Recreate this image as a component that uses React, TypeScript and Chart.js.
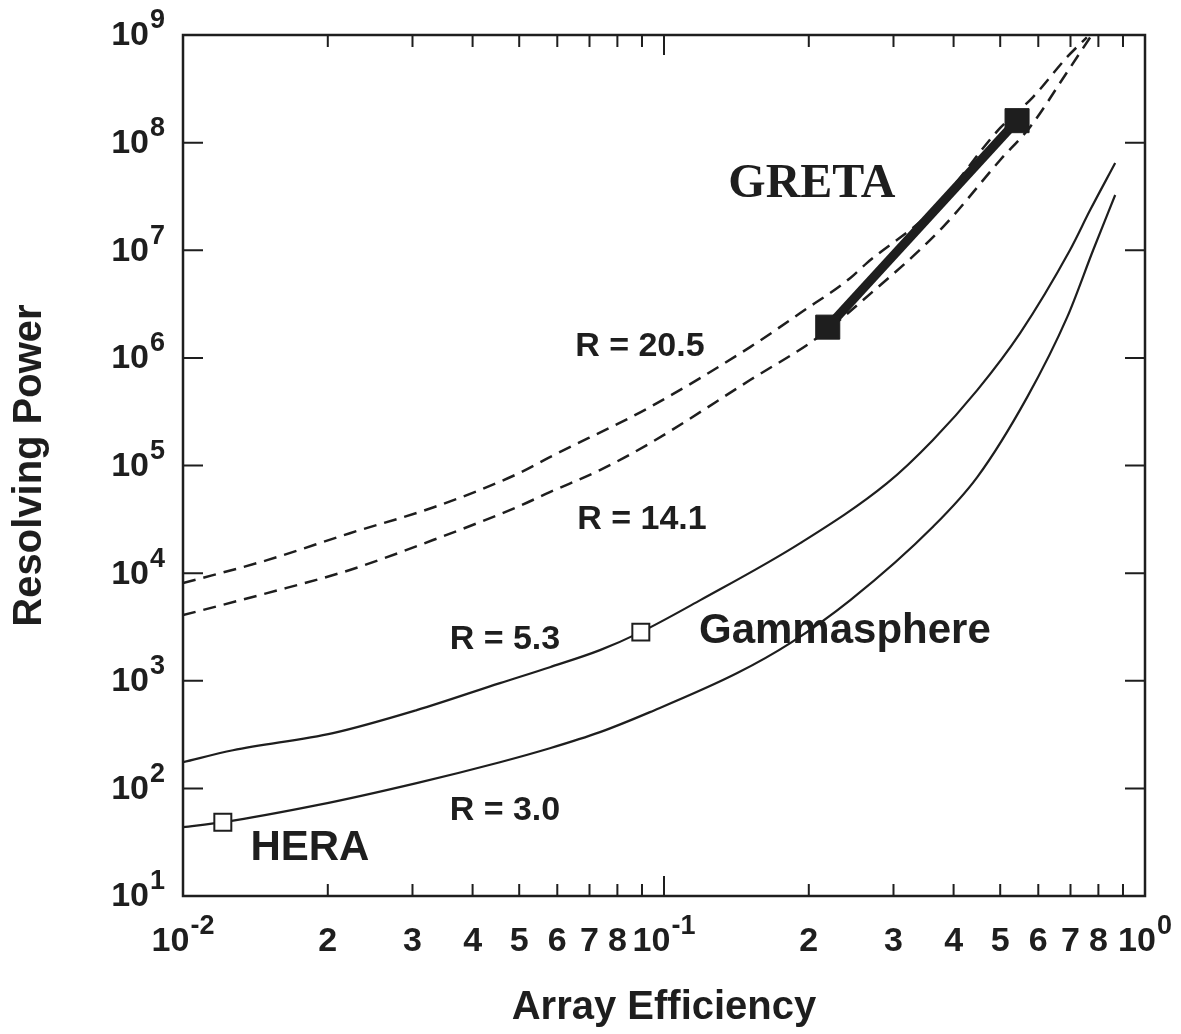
import React, { useEffect, useRef } from 'react';
import { Chart, registerables } from 'chart.js';

Chart.register(...registerables);

// ---- data ----
const effR205 = [0.01, 0.01496, 0.02223, 0.0331, 0.0495, 0.0579, 0.0935, 0.151, 0.192, 0.244, 0.264, 0.362, 0.5, 0.585, 0.689, 0.757];
const powR205 = [8070, 13200, 23500, 40700, 83200, 119700, 349000, 1.26e6, 2.61e6, 5.52e6, 7.6e6, 2.36e7, 1.37e8, 2.65e8, 6.25e8, 9.5e8];

const effR141 = [0.01, 0.01496, 0.02223, 0.0331, 0.0495, 0.0579, 0.0736, 0.0935, 0.151, 0.208, 0.255, 0.38, 0.5, 0.577, 0.689, 0.769];
const powR141 = [4070, 6520, 10700, 20300, 41100, 56600, 90600, 161000, 622000, 1.53e6, 3.23e6, 1.64e7, 6.9e7, 1.4e8, 4.53e8, 9.5e8];

const effR53 = [0.01, 0.0127, 0.0205, 0.0306, 0.0456, 0.0579, 0.0736, 0.0895, 0.119, 0.192, 0.291, 0.362, 0.448, 0.55, 0.698, 0.769, 0.867];
const powR53 = [175, 226, 326, 533, 951, 1337, 1925, 2830, 5610, 19000, 68600, 172000, 502000, 1.7e6, 1.0e7, 2.36e7, 6.46e7];

const effR30 = [0.01, 0.0121, 0.019, 0.0306, 0.0456, 0.0579, 0.0736, 0.0935, 0.142, 0.183, 0.244, 0.362, 0.448, 0.569, 0.689, 0.78, 0.867];
const powR30 = [43.6, 48.5, 69.8, 112, 175, 236, 333, 511, 1178, 2235, 5610, 26800, 78000, 432000, 2.39e6, 1.0e7, 3.26e7];

const gretaEff = [0.219, 0.542];
const gretaPow = [1.93e6, 1.6e8];

const gammasphereEff = [0.0895];
const gammaspherePow = [2830];

const heraEff = [0.0121];
const heraPow = [48.5];

// axis ticks
const yTickExps = [1, 2, 3, 4, 5, 6, 7, 8, 9];
const xTickExps = [-2, -1, 0];
const xMinorMultipliers = [2, 3, 4, 5, 6, 7, 8, 9];
const xMinorLabels = ['2', '3', '4', '5', '6', '7', '8'];

// annotations (data coordinates)
const noteTexts = ['GRETA', 'R = 20.5', 'R = 14.1', 'R = 5.3', 'Gammasphere', 'R = 3.0', 'HERA'];
const noteEff = [0.203, 0.0891, 0.09, 0.0467, 0.2377, 0.0467, 0.01836];
const notePow = [4.04e7, 1.26e6, 31100, 2385, 2890, 62.7, 27.8];

// ---- styles ----
const INK = '#1e1e1e';
const SANS = '"Liberation Sans", Arial, Helvetica, sans-serif';
const SERIF = '"Liberation Serif", "Times New Roman", serif';
const noteFonts = [
  `bold 48px ${SERIF}`,
  `bold 34px ${SANS}`,
  `bold 34px ${SANS}`,
  `bold 34px ${SANS}`,
  `bold 42px ${SANS}`,
  `bold 34px ${SANS}`,
  `bold 42px ${SANS}`,
];

const toPts = (xs: number[], ys: number[]) => xs.map((x, i) => ({ x, y: ys[i] }));

const framePlugin = {
  id: 'frameAndLabels',
  afterDraw(chart: any) {
    const { ctx, chartArea: a, scales } = chart;
    const xs = scales.x;
    const ys = scales.y;
    ctx.save();
    ctx.strokeStyle = INK;
    ctx.fillStyle = INK;
    // frame
    ctx.lineWidth = 2.5;
    ctx.strokeRect(a.left, a.top, a.right - a.left, a.bottom - a.top);
    // y ticks (both sides, inward)
    ctx.lineWidth = 2;
    yTickExps.forEach((e) => {
      const py = ys.getPixelForValue(Math.pow(10, e));
      ctx.beginPath();
      ctx.moveTo(a.left, py);
      ctx.lineTo(a.left + 20, py);
      ctx.moveTo(a.right, py);
      ctx.lineTo(a.right - 20, py);
      ctx.stroke();
    });
    // x ticks
    const drawXTick = (v: number, len: number) => {
      const px = xs.getPixelForValue(v);
      ctx.beginPath();
      ctx.moveTo(px, a.bottom);
      ctx.lineTo(px, a.bottom - len);
      ctx.moveTo(px, a.top);
      ctx.lineTo(px, a.top + len);
      ctx.stroke();
    };
    xTickExps.forEach((e, i) => {
      const d = Math.pow(10, e);
      drawXTick(d, 20);
      if (i < xTickExps.length - 1) {
        xMinorMultipliers.forEach((m) => drawXTick(d * m, 12));
      }
    });
    // y tick labels with superscripts
    const baseFont = `bold 34px ${SANS}`;
    const supFont = `bold 27px ${SANS}`;
    ctx.textBaseline = 'middle';
    ctx.textAlign = 'left';
    yTickExps.forEach((e) => {
      const py = ys.getPixelForValue(Math.pow(10, e));
      const sup = String(e);
      ctx.font = supFont;
      const sw = ctx.measureText(sup).width;
      ctx.font = baseFont;
      const bw = ctx.measureText('10').width;
      const right = a.left - 18;
      ctx.fillText('10', right - sw - bw - 1, py + 1);
      ctx.font = supFont;
      ctx.fillText(sup, right - sw, py - 14);
    });
    // x tick labels
    const ly = a.bottom + 46;
    xTickExps.forEach((e, i) => {
      const d = Math.pow(10, e);
      const px = xs.getPixelForValue(d);
      const sup = String(e);
      ctx.font = supFont;
      const sw = ctx.measureText(sup).width;
      ctx.font = baseFont;
      const bw = ctx.measureText('10').width;
      const start = px - (bw + sw + 1) / 2;
      ctx.fillText('10', start, ly);
      ctx.font = supFont;
      ctx.fillText(sup, start + bw + 1, ly - 15);
      if (i < xTickExps.length - 1) {
        ctx.font = baseFont;
        ctx.textAlign = 'center';
        xMinorLabels.forEach((t) => {
          const mx = xs.getPixelForValue(d * Number(t));
          ctx.fillText(t, mx, ly);
        });
        ctx.textAlign = 'left';
      }
    });
    // annotations
    ctx.textAlign = 'center';
    noteTexts.forEach((t, i) => {
      ctx.font = noteFonts[i];
      ctx.fillText(t, xs.getPixelForValue(noteEff[i]), ys.getPixelForValue(notePow[i]));
    });
    ctx.restore();
  },
};

export default function App() {
  const ref = useRef<HTMLCanvasElement | null>(null);
  useEffect(() => {
    if (!ref.current) return;
    const curve = (label: string, xs: number[], ys: number[], dashed: boolean) => ({
      label,
      data: toPts(xs, ys),
      showLine: true,
      borderColor: INK,
      borderWidth: dashed ? 2.5 : 2.2,
      borderDash: dashed ? [13, 8] : [],
      pointRadius: 0,
      cubicInterpolationMode: 'monotone' as const,
      fill: false,
    });
    const chart = new Chart(ref.current, {
      type: 'scatter',
      data: {
        datasets: [
          {
            label: 'HERA',
            data: toPts(heraEff, heraPow),
            pointStyle: 'rect',
            pointRadius: 12,
            pointBackgroundColor: '#ffffff',
            pointBorderColor: INK,
            pointBorderWidth: 2,
            showLine: false,
          },
          {
            label: 'Gammasphere',
            data: toPts(gammasphereEff, gammaspherePow),
            pointStyle: 'rect',
            pointRadius: 12,
            pointBackgroundColor: '#ffffff',
            pointBorderColor: INK,
            pointBorderWidth: 2,
            showLine: false,
          },
          {
            label: 'GRETA',
            data: toPts(gretaEff, gretaPow),
            showLine: true,
            borderColor: INK,
            borderWidth: 9,
            pointStyle: 'rect',
            pointRadius: 17,
            pointBackgroundColor: INK,
            pointBorderColor: INK,
            pointBorderWidth: 1,
          },
          curve('R = 20.5', effR205, powR205, true),
          curve('R = 14.1', effR141, powR141, true),
          curve('R = 5.3', effR53, powR53, false),
          curve('R = 3.0', effR30, powR30, false),
        ] as any,
      },
      options: {
        animation: false,
        responsive: false,
        devicePixelRatio: 1,
        layout: { padding: { top: 35, right: 36, left: 0, bottom: 0 } },
        plugins: { legend: { display: false }, tooltip: { enabled: false } },
        scales: {
          x: {
            type: 'logarithmic',
            min: 0.01,
            max: 1,
            ticks: { display: false },
            grid: { display: false },
            border: { display: false },
            title: {
              display: true,
              text: 'Array Efficiency',
              color: INK,
              font: { size: 40, weight: 'bold', family: SANS },
              padding: { top: 0, bottom: 2 },
            },
            afterFit: (s: any) => {
              s.height = 138;
            },
          },
          y: {
            type: 'logarithmic',
            min: 10,
            max: 1e9,
            ticks: { display: false },
            grid: { display: false },
            border: { display: false },
            title: {
              display: true,
              text: 'Resolving Power',
              color: INK,
              font: { size: 40, weight: 'bold', family: SANS },
              padding: { top: 6, bottom: 0 },
            },
            afterFit: (s: any) => {
              s.width = 183;
            },
          },
        },
      } as any,
      plugins: [framePlugin],
    });
    return () => chart.destroy();
  }, []);
  return (
    <div style={{ position: 'fixed', left: 0, top: 0, width: 1181, height: 1034, background: '#fff' }}>
      <canvas ref={ref} width={1181} height={1034} style={{ width: 1181, height: 1034, display: 'block' }} />
    </div>
  );
}
